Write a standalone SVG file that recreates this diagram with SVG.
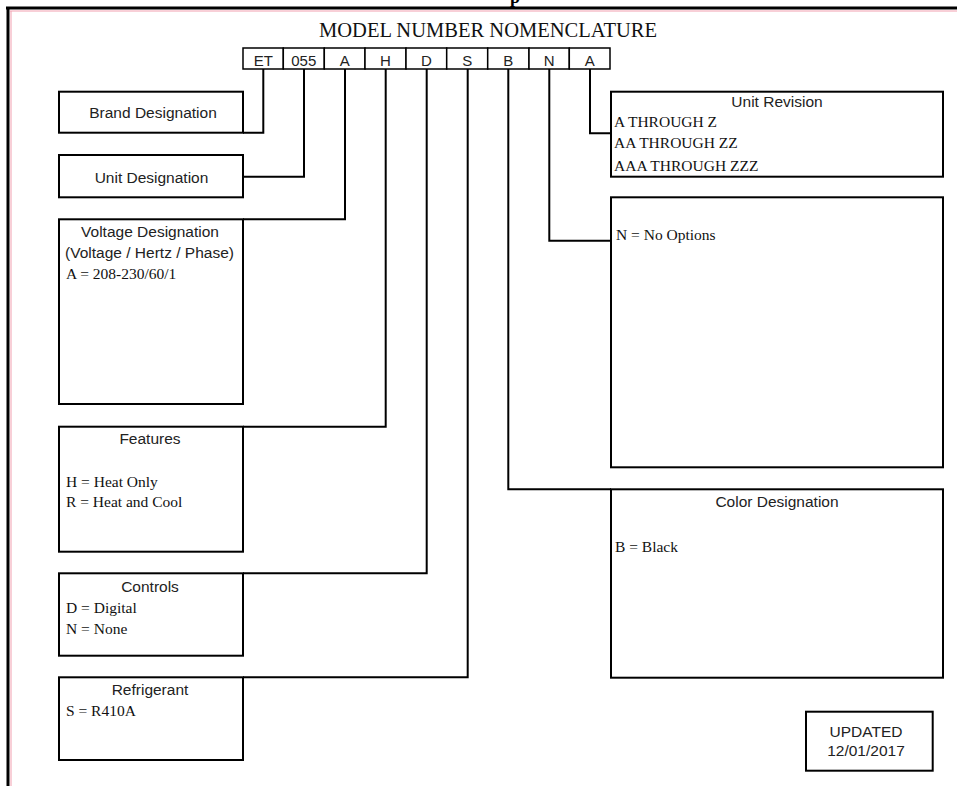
<svg xmlns="http://www.w3.org/2000/svg" width="957" height="786" viewBox="0 0 957 786">
<style>
.box{fill:#fff;stroke:#000;stroke-width:2}
.code{fill:#fff;stroke:#000;stroke-width:1.5}
.con{fill:none;stroke:#000;stroke-width:2}
.sans{font-family:"Liberation Sans",Arial,sans-serif;font-size:15.5px;fill:#222}
.mid{text-anchor:middle}
.serif{font-family:"Liberation Serif","Times New Roman",serif;font-size:15.5px;fill:#111}
.cd{font-family:"Liberation Sans",Arial,sans-serif;font-size:15px;fill:#222;text-anchor:middle}
</style>
<rect width="957" height="786" fill="#fff"/>
<g id="frame">
<line x1="10" y1="11" x2="957" y2="11" stroke="#f2a0b0" stroke-width="1"/>
<line x1="11" y1="11" x2="11" y2="786" stroke="#f2a0b0" stroke-width="1"/>
<line x1="6" y1="8" x2="957" y2="8" stroke="#000" stroke-width="3"/>
<line x1="8" y1="8" x2="8" y2="786" stroke="#000" stroke-width="3"/>
<text x="510" y="3" font-family="Liberation Serif,serif" font-size="18" font-weight="bold" fill="#000">p</text>
</g>
<text id="title" x="488" y="37" font-family="Liberation Serif,'Times New Roman',serif" font-size="21" fill="#111" text-anchor="middle" textLength="338" lengthAdjust="spacingAndGlyphs">MODEL NUMBER NOMENCLATURE</text>
<g id="codes">
<rect class="code" x="243" y="48" width="40.3" height="21"/>
<rect class="code" x="283.3" y="48" width="41" height="21"/>
<rect class="code" x="324.3" y="48" width="40.7" height="21"/>
<rect class="code" x="365" y="48" width="41" height="21"/>
<rect class="code" x="406" y="48" width="40.7" height="21"/>
<rect class="code" x="446.7" y="48" width="41" height="21"/>
<rect class="code" x="487.7" y="48" width="41.3" height="21"/>
<rect class="code" x="529" y="48" width="40.3" height="21"/>
<rect class="code" x="569.3" y="48" width="40.7" height="21"/>
<text class="cd" x="263.3" y="65.5">ET</text>
<text class="cd" x="303.8" y="65.5">055</text>
<text class="cd" x="344.7" y="65.5">A</text>
<text class="cd" x="385.5" y="65.5">H</text>
<text class="cd" x="426.3" y="65.5">D</text>
<text class="cd" x="467.2" y="65.5">S</text>
<text class="cd" x="508.3" y="65.5">B</text>
<text class="cd" x="549.2" y="65.5">N</text>
<text class="cd" x="589.7" y="65.5">A</text>
</g>
<g id="connectors">
<polyline class="con" points="263.3,69 263.3,132.7 243,132.7"/>
<polyline class="con" points="304,69 304,176.7 243,176.7"/>
<polyline class="con" points="345,69 345,219.3 243,219.3"/>
<polyline class="con" points="385.7,69 385.7,426.7 243,426.7"/>
<polyline class="con" points="426.7,69 426.7,573.3 243,573.3"/>
<polyline class="con" points="467.7,69 467.7,677.3 243,677.3"/>
<polyline class="con" points="508.3,69 508.3,489.3 611,489.3"/>
<polyline class="con" points="549.3,69 549.3,240.7 611,240.7"/>
<polyline class="con" points="590,69 590,133.3 611,133.3"/>
</g>
<g id="brand">
<rect class="box" x="59" y="91.7" width="184" height="41"/>
<text class="sans mid" x="153" y="118.3">Brand Designation</text>
</g>
<g id="unit">
<rect class="box" x="59" y="155" width="184" height="42.3"/>
<text class="sans mid" x="151.5" y="182.7">Unit Designation</text>
</g>
<g id="voltage">
<rect class="box" x="59" y="219.3" width="184" height="184.7"/>
<text class="sans mid" x="150" y="236.7">Voltage Designation</text>
<text class="sans mid" x="149.5" y="258.3">(Voltage / Hertz / Phase)</text>
<text class="serif" x="66" y="279.3">A = 208-230/60/1</text>
</g>
<g id="features">
<rect class="box" x="59" y="426.7" width="184" height="125"/>
<text class="sans mid" x="150" y="444.3">Features</text>
<text class="serif" x="66" y="486.7">H = Heat Only</text>
<text class="serif" x="66" y="507.3">R = Heat and Cool</text>
</g>
<g id="controls">
<rect class="box" x="59" y="573.3" width="184" height="82.4"/>
<text class="sans mid" x="150" y="591.7">Controls</text>
<text class="serif" x="66" y="613.3">D = Digital</text>
<text class="serif" x="66" y="634">N = None</text>
</g>
<g id="refrigerant">
<rect class="box" x="59" y="677.3" width="184" height="82.7"/>
<text class="sans mid" x="150" y="695">Refrigerant</text>
<text class="serif" x="66" y="716">S = R410A</text>
</g>
<g id="revision">
<rect class="box" x="611" y="91.7" width="332" height="85"/>
<text class="sans mid" x="777" y="107.3">Unit Revision</text>
<text class="serif" x="614" y="126.7">A THROUGH Z</text>
<text class="serif" x="614" y="148.3">AA THROUGH ZZ</text>
<text class="serif" x="614" y="170.7">AAA THROUGH ZZZ</text>
</g>
<g id="options">
<rect class="box" x="611" y="197.3" width="332" height="270"/>
<text class="serif" x="616" y="240">N = No Options</text>
</g>
<g id="color">
<rect class="box" x="611" y="489.3" width="332" height="188.4"/>
<text class="sans mid" x="777" y="506.7">Color Designation</text>
<text class="serif" x="615" y="551.7">B = Black</text>
</g>
<g id="updated">
<rect class="box" x="806" y="711.7" width="126.7" height="59"/>
<text class="sans mid" x="866" y="737.3">UPDATED</text>
<text class="sans mid" x="866" y="756">12/01/2017</text>
</g>
</svg>
